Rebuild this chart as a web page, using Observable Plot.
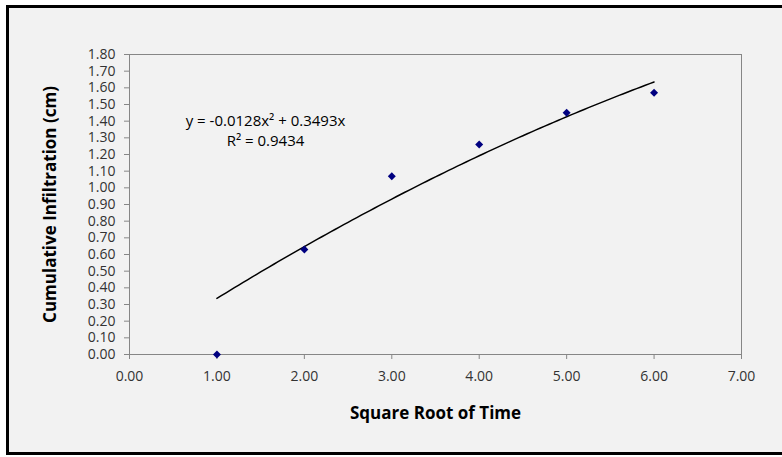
<!DOCTYPE html>
<html>
<head>
<meta charset="utf-8">
<script src="https://cdn.jsdelivr.net/npm/d3@7"></script>
<script src="https://cdn.jsdelivr.net/npm/@observablehq/plot@0.6"></script>
<style>
  html, body { margin: 0; padding: 0; background: #ffffff; }
  #wrap { position: relative; width: 782px; height: 457px; overflow: hidden; }
  #panel { position: absolute; left: 6px; top: 5px; width: 800px; height: 444px;
           border: 3px solid #000; background: #f2f2f2; }
  #chart { position: absolute; left: 0; top: 0; }
  #chart svg { background: transparent; }
</style>
</head>
<body>
<div id="wrap"><div id="panel"></div><div id="chart"></div></div>
<script>
// Data
const sqrtTime = [1, 2, 3, 4, 5, 6];
const infiltration = [0.00, 0.63, 1.07, 1.26, 1.45, 1.57];
// Polynomial trendline shown on the chart: y = -0.0128x² + 0.3493x
const trendA = -0.0128;
const trendB = 0.3493;
const trendRange = [1, 6];
const equationLabels = ["y = -0.0128x\u00b2 + 0.3493x", "R\u00b2 = 0.9434"];
const xTicks = [0, 1, 2, 3, 4, 5, 6, 7];
const yTicks = [0, 0.1, 0.2, 0.3, 0.4, 0.5, 0.6, 0.7, 0.8, 0.9, 1.0, 1.1, 1.2, 1.3, 1.4, 1.5, 1.6, 1.7, 1.8];
const xTitle = "Square Root of Time";
const yTitle = "Cumulative Infiltration (cm)";

const points = sqrtTime.map((x, i) => ({x, y: infiltration[i]}));
const curve = d3.range(trendRange[0], trendRange[1] + 1e-9, 0.05)
  .map(x => ({x, y: trendA * x * x + trendB * x}));

const font = "'Open Sans', sans-serif";
const tickColor = "#333333";
const axisLine = "#868686";

const chart = Plot.plot({
  width: 782,
  height: 457,
  marginLeft: 129,
  marginRight: 41,
  marginTop: 54,
  marginBottom: 103,
  style: {background: "transparent", fontFamily: font},
  x: {domain: [0, 7]},
  y: {domain: [0, 1.8]},
  marks: [
    Plot.frame({stroke: axisLine}),
    Plot.axisX({ticks: xTicks, tickFormat: d => d.toFixed(2), tickSize: 5, tickPadding: 12,
      fontSize: 14, stroke: axisLine, fill: tickColor, label: null}),
    Plot.axisY({ticks: yTicks, tickFormat: d => d.toFixed(2), tickSize: 5, tickPadding: 9,
      fontSize: 14, stroke: axisLine, fill: tickColor, label: null}),
    Plot.line(curve, {x: "x", y: "y", stroke: "#000", strokeWidth: 1.5}),
    Plot.dot(points, {x: "x", y: "y", symbol: "diamond2", r: 3.6, fill: "#000080", stroke: "none"}),
    Plot.text([equationLabels[0]], {frameAnchor: "top-left", dx: 136, dy: 67, textAnchor: "middle",
      lineAnchor: "middle", fontSize: 15, fill: "#000"}),
    Plot.text([equationLabels[1]], {frameAnchor: "top-left", dx: 136, dy: 87, textAnchor: "middle",
      lineAnchor: "middle", fontSize: 15, fill: "#000"}),
    Plot.text([xTitle], {frameAnchor: "bottom", dy: 59, textAnchor: "middle", lineAnchor: "middle",
      fontSize: 17, fontWeight: "bold", fill: "#000"}),
    Plot.text([yTitle], {frameAnchor: "left", dx: -79, rotate: -90, textAnchor: "middle",
      lineAnchor: "middle", fontSize: 17, fontWeight: "bold", fill: "#000"})
  ]
});
document.getElementById("chart").appendChild(chart);
</script>
</body>
</html>
